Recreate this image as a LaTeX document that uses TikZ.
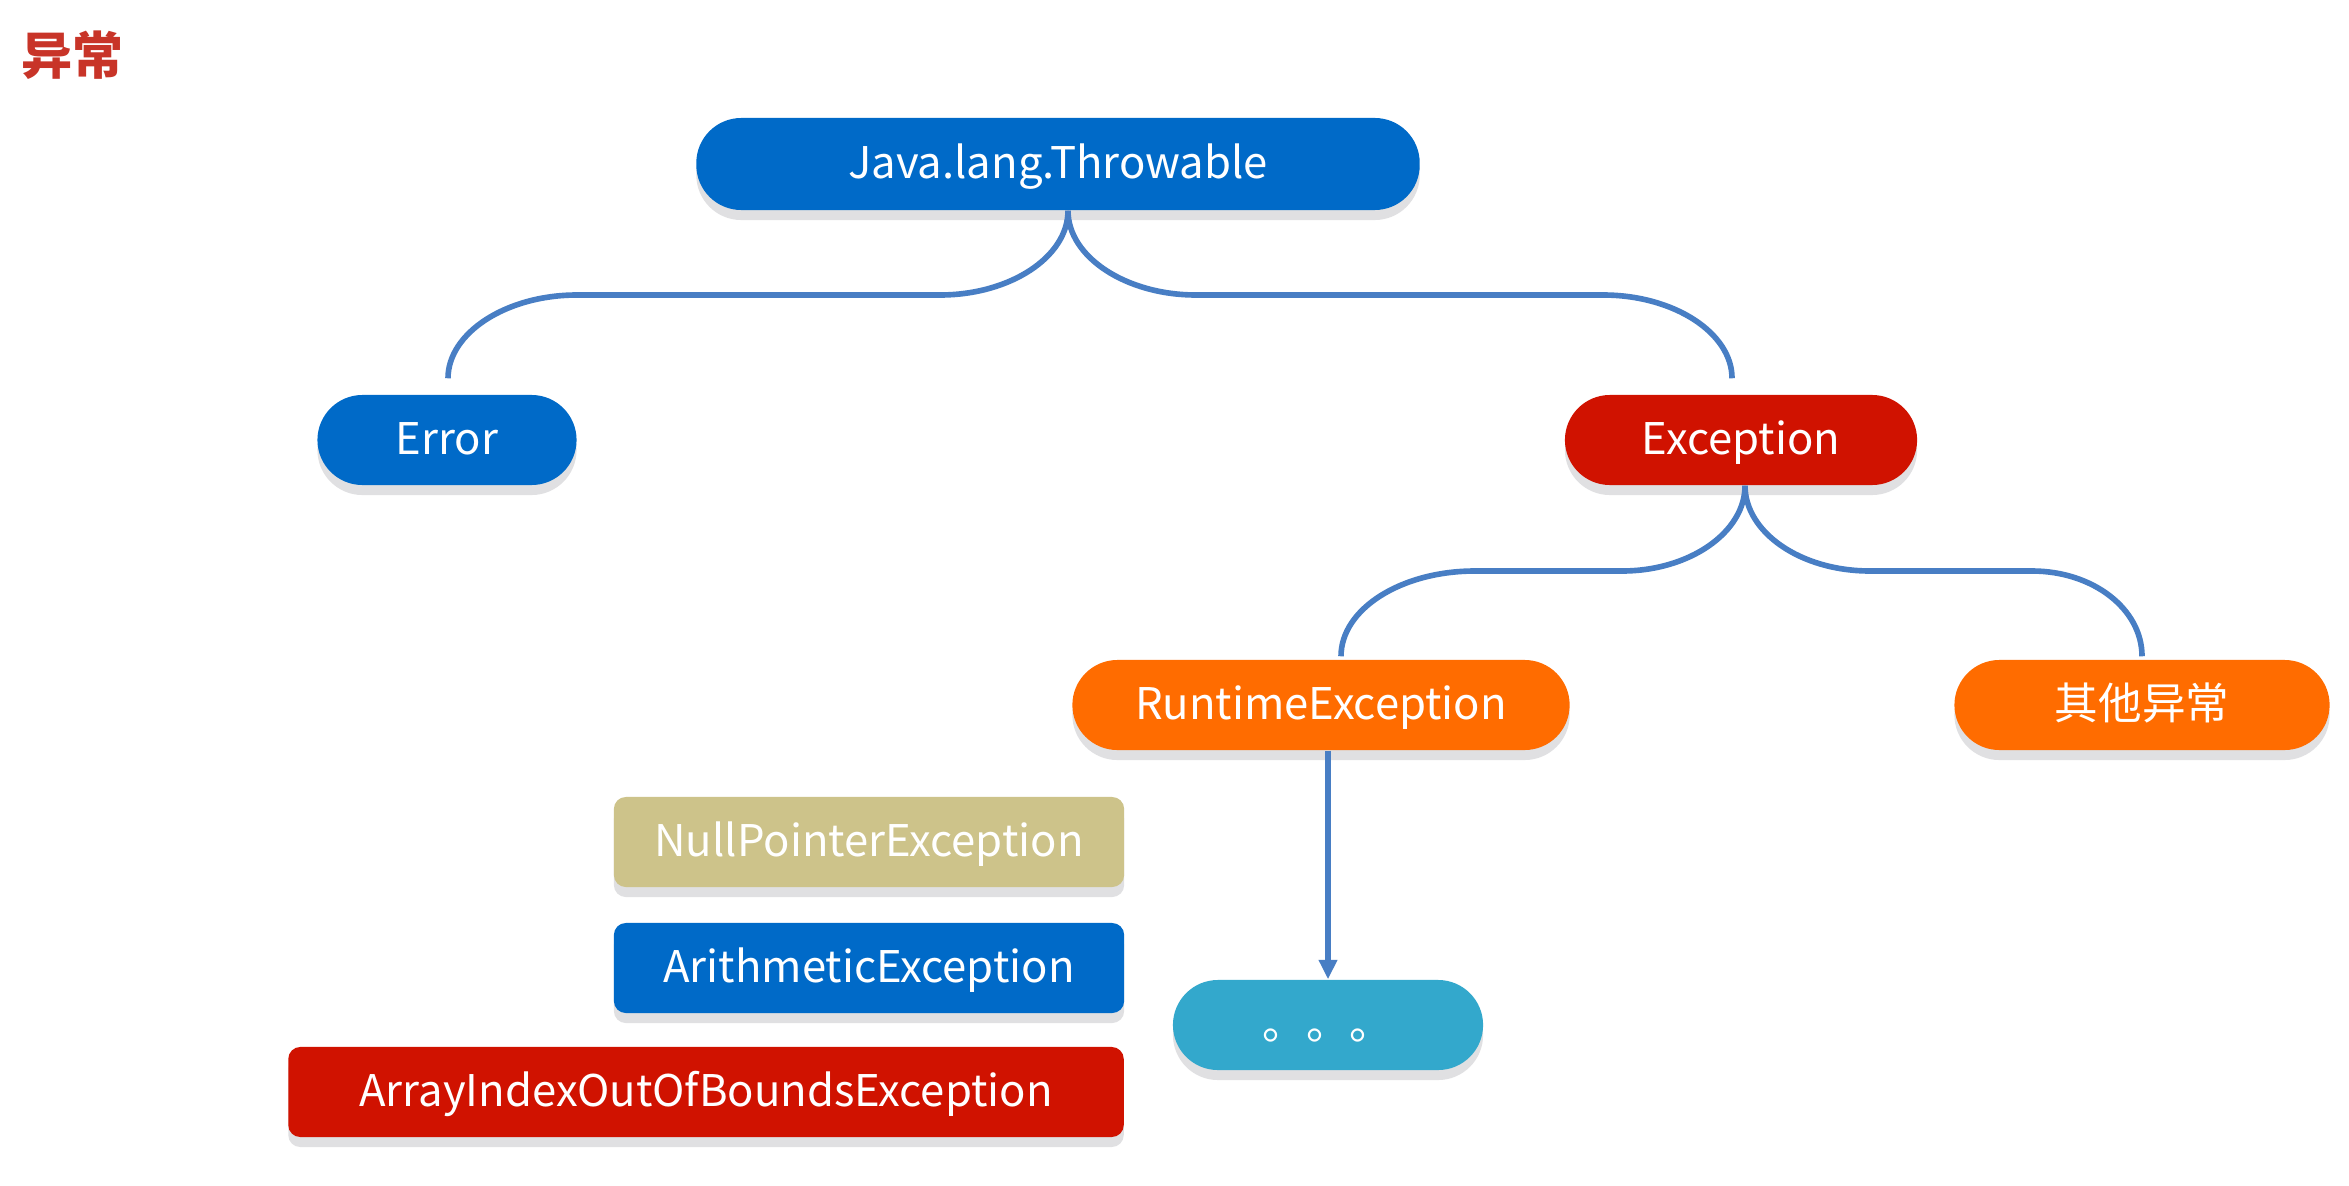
\documentclass[tikz,border=0pt]{standalone}
\usepackage{fontspec}
\setmainfont{Noto Sans CJK SC}
\usetikzlibrary{shadows,arrows.meta,calc}
\definecolor{cblue}{RGB}{0,106,200}
\definecolor{cred}{RGB}{208,18,0}
\definecolor{corange}{RGB}{255,108,0}
\definecolor{ctan}{RGB}{205,195,138}
\definecolor{cteal}{RGB}{51,168,204}
\definecolor{lineblue}{RGB}{72,126,196}
\definecolor{shadowgray}{RGB}{224,224,226}
\definecolor{titlered}{RGB}{200,52,40}
\tikzset{
  shad/.style={drop shadow={shadow xshift=0cm, shadow yshift=-0.1cm, opacity=1, fill=shadowgray}},
  pill/.style={shad, rounded corners=0.45cm, minimum height=0.9cm, inner sep=0pt, text=white,
    font=\fontsize{12.4}{15}\selectfont, text height=10.3pt, text depth=1.8pt},
  box/.style={pill, rounded corners=0.12cm},
  conn/.style={draw=lineblue, line width=1.6pt},
}
\begin{document}
\begin{tikzpicture}[x=0.01cm, y=-0.01cm]
\fill[white] (0,0) rectangle (2349,1185);
\useasboundingbox (0,0) rectangle (2349,1185);

\node[text=titlered, font=\fontsize{14.5}{16}\selectfont\bfseries] (title) at (72,55) {异常};

\node[pill, fill=cblue, minimum width=7.23cm, minimum height=0.92cm] (thr) at (1058,164) {Java.lang.Throwable};
\node[pill, fill=cblue, minimum width=2.59cm] (err) at (447,440) {Error};
\node[pill, fill=cred, minimum width=3.52cm] (exc) at (1741,440) {Exception};
\node[pill, fill=corange, minimum width=4.97cm] (rte) at (1321,705) {RuntimeException};
\node[pill, fill=corange, minimum width=3.75cm] (oth) at (2142,705) {其他异常};
\node[box, fill=ctan, minimum width=5.10cm] (npe) at (869,842) {NullPointerException};
\node[box, fill=cblue, minimum width=5.10cm] (ari) at (869,968) {ArithmeticException};
\node[box, fill=cred, minimum width=8.35cm] (aio) at (706,1092) {ArrayIndexOutOfBoundsException};
\node[pill, fill=cteal, minimum width=3.10cm] (dots) at (1328,1025) {。。。};

% Throwable -> Error / Exception
\draw[conn] ($(thr.south)+(10,0)$) .. controls (1068,257) and (1010,295) .. (940,295)
  -- (577,295) .. controls (506,295) and (448,333) .. ($(err.north)+(1,-16)$);
\draw[conn] ($(thr.south)+(10,0)$) .. controls (1068,257) and (1126,295) .. (1196,295)
  -- (1603,295) .. controls (1674,295) and (1732,333) .. ($(exc.north)+(-9,-16)$);

% Exception -> RuntimeException / other
\draw[conn] ($(exc.south)+(4,0)$) .. controls (1745,532) and (1690,571) .. (1622,571)
  -- (1475,571) .. controls (1401,571) and (1341,609) .. ($(rte.north)+(20,-3)$);
\draw[conn] ($(exc.south)+(4,0)$) .. controls (1745,532) and (1800,571) .. (1870,571)
  -- (2032,571) .. controls (2093,571) and (2142,609) .. ($(oth.north)+(0,-3)$);

% RuntimeException -> ...
\draw[conn, -{Triangle[width=5pt,length=5.5pt]}] (rte.south -| dots.north) -- (dots.north);
\end{tikzpicture}
\end{document}
